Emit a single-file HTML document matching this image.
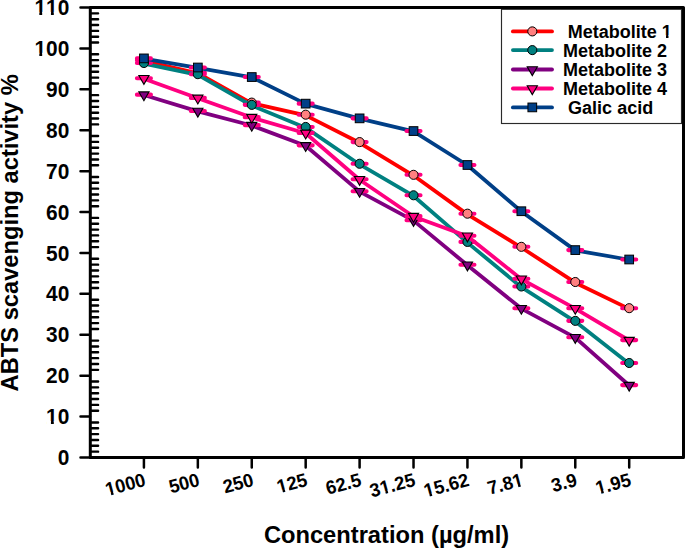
<!DOCTYPE html><html><head><meta charset="utf-8"><style>html,body{margin:0;padding:0;background:#fff;}svg{display:block;}text{font-family:"Liberation Sans",sans-serif;font-weight:bold;fill:#000;font-kerning:none;}</style></head><body>
<svg width="685" height="548" viewBox="0 0 685 548">
<rect width="685" height="548" fill="#fff"/>
<path d="M91.6 451.66H98.1M91.6 445.81H98.1M91.6 439.97H98.1M91.6 434.12H98.1M91.6 428.28H98.1M91.6 422.44H98.1M91.6 410.75H98.1M91.6 404.90H98.1M91.6 399.06H98.1M91.6 393.21H98.1M91.6 387.37H98.1M91.6 381.53H98.1M91.6 369.84H98.1M91.6 363.99H98.1M91.6 358.15H98.1M91.6 352.31H98.1M91.6 346.46H98.1M91.6 340.62H98.1M91.6 328.93H98.1M91.6 323.08H98.1M91.6 317.24H98.1M91.6 311.40H98.1M91.6 305.55H98.1M91.6 299.71H98.1M91.6 288.02H98.1M91.6 282.18H98.1M91.6 276.33H98.1M91.6 270.49H98.1M91.6 264.64H98.1M91.6 258.80H98.1M91.6 247.11H98.1M91.6 241.27H98.1M91.6 235.42H98.1M91.6 229.58H98.1M91.6 223.73H98.1M91.6 217.89H98.1M91.6 206.20H98.1M91.6 200.36H98.1M91.6 194.51H98.1M91.6 188.67H98.1M91.6 182.82H98.1M91.6 176.98H98.1M91.6 165.29H98.1M91.6 159.45H98.1M91.6 153.60H98.1M91.6 147.76H98.1M91.6 141.92H98.1M91.6 136.07H98.1M91.6 124.38H98.1M91.6 118.54H98.1M91.6 112.69H98.1M91.6 106.85H98.1M91.6 101.01H98.1M91.6 95.16H98.1M91.6 83.47H98.1M91.6 77.63H98.1M91.6 71.79H98.1M91.6 65.94H98.1M91.6 60.10H98.1M91.6 54.25H98.1M91.6 42.56H98.1M91.6 36.72H98.1M91.6 30.88H98.1M91.6 25.03H98.1M91.6 19.19H98.1M91.6 13.34H98.1" stroke="#000" stroke-width="2.4" stroke-linecap="round" fill="none"/>
<path d="M80.5 457.50H90M80.5 416.59H90M80.5 375.68H90M80.5 334.77H90M80.5 293.86H90M80.5 252.95H90M80.5 212.05H90M80.5 171.14H90M80.5 130.23H90M80.5 89.32H90M80.5 48.41H90M80.5 7.50H90" stroke="#000" stroke-width="2.5" stroke-linecap="round" fill="none"/>
<path d="M143.92 457.5V467.6M197.84 457.5V467.6M251.76 457.5V467.6M305.68 457.5V467.6M359.60 457.5V467.6M413.52 457.5V467.6M467.44 457.5V467.6M521.36 457.5V467.6M575.28 457.5V467.6M629.20 457.5V467.6" stroke="#000" stroke-width="2.5" stroke-linecap="round" fill="none"/>
<rect x="501.5" y="9.3" width="180" height="114.2" fill="#fff" stroke="#2a2a2a" stroke-width="1.15"/>
<path d="M90.3 457.5V7.5H683.5V457.5Z" stroke="#000" stroke-width="3" fill="none" stroke-linejoin="round"/>
<g transform="translate(69.3 465.10) scale(0.95 1)"><text x="0" y="0" font-size="22" text-anchor="end">0</text></g>
<g transform="translate(69.3 424.19) scale(0.95 1)"><text x="0" y="0" font-size="22" text-anchor="end">10</text><rect x="-24.08" y="-3.22" width="4.75" height="4.22" fill="#fff"/><rect x="-16.32" y="-3.22" width="4.47" height="4.22" fill="#fff"/></g>
<g transform="translate(69.3 383.28) scale(0.95 1)"><text x="0" y="0" font-size="22" text-anchor="end">20</text></g>
<g transform="translate(69.3 342.37) scale(0.95 1)"><text x="0" y="0" font-size="22" text-anchor="end">30</text></g>
<g transform="translate(69.3 301.46) scale(0.95 1)"><text x="0" y="0" font-size="22" text-anchor="end">40</text></g>
<g transform="translate(69.3 260.55) scale(0.95 1)"><text x="0" y="0" font-size="22" text-anchor="end">50</text></g>
<g transform="translate(69.3 219.65) scale(0.95 1)"><text x="0" y="0" font-size="22" text-anchor="end">60</text></g>
<g transform="translate(69.3 178.74) scale(0.95 1)"><text x="0" y="0" font-size="22" text-anchor="end">70</text></g>
<g transform="translate(69.3 137.83) scale(0.95 1)"><text x="0" y="0" font-size="22" text-anchor="end">80</text></g>
<g transform="translate(69.3 96.92) scale(0.95 1)"><text x="0" y="0" font-size="22" text-anchor="end">90</text></g>
<g transform="translate(69.3 56.01) scale(0.95 1)"><text x="0" y="0" font-size="22" text-anchor="end">100</text><rect x="-36.32" y="-3.22" width="4.75" height="4.22" fill="#fff"/><rect x="-28.55" y="-3.22" width="4.47" height="4.22" fill="#fff"/></g>
<g transform="translate(69.3 15.10) scale(0.95 1)"><text x="0" y="0" font-size="22" text-anchor="end">110</text><rect x="-36.32" y="-3.22" width="4.75" height="4.22" fill="#fff"/><rect x="-28.55" y="-3.22" width="4.47" height="4.22" fill="#fff"/><rect x="-24.08" y="-3.22" width="4.75" height="4.22" fill="#fff"/><rect x="-16.32" y="-3.22" width="4.47" height="4.22" fill="#fff"/></g>
<g transform="translate(143.12 472) rotate(-15) translate(0 14) scale(0.97 1)"><text x="0" y="0" font-size="19" text-anchor="end">1000</text><rect x="-42.07" y="-2.78" width="4.24" height="3.78" fill="#fff"/><rect x="-35.23" y="-2.78" width="4.00" height="3.78" fill="#fff"/></g>
<g transform="translate(197.04 472) rotate(-15) translate(0 14) scale(0.97 1)"><text x="0" y="0" font-size="19" text-anchor="end">500</text></g>
<g transform="translate(250.96 472) rotate(-15) translate(0 14) scale(0.97 1)"><text x="0" y="0" font-size="19" text-anchor="end">250</text></g>
<g transform="translate(304.88 472) rotate(-15) translate(0 14) scale(0.97 1)"><text x="0" y="0" font-size="19" text-anchor="end">125</text><rect x="-31.50" y="-2.78" width="4.24" height="3.78" fill="#fff"/><rect x="-24.66" y="-2.78" width="4.00" height="3.78" fill="#fff"/></g>
<g transform="translate(358.80 472) rotate(-15) translate(0 14) scale(0.97 1)"><text x="0" y="0" font-size="19" text-anchor="end">62.5</text></g>
<g transform="translate(412.72 472) rotate(-15) translate(0 14) scale(0.97 1)"><text x="0" y="0" font-size="19" text-anchor="end">31.25</text><rect x="-36.78" y="-2.78" width="4.24" height="3.78" fill="#fff"/><rect x="-29.94" y="-2.78" width="4.00" height="3.78" fill="#fff"/></g>
<g transform="translate(466.64 472) rotate(-15) translate(0 14) scale(0.97 1)"><text x="0" y="0" font-size="19" text-anchor="end">15.62</text><rect x="-47.35" y="-2.78" width="4.24" height="3.78" fill="#fff"/><rect x="-40.50" y="-2.78" width="4.00" height="3.78" fill="#fff"/></g>
<g transform="translate(520.56 472) rotate(-15) translate(0 14) scale(0.97 1)"><text x="0" y="0" font-size="19" text-anchor="end">7.81</text><rect x="-10.37" y="-2.78" width="4.24" height="3.78" fill="#fff"/><rect x="-3.53" y="-2.78" width="4.00" height="3.78" fill="#fff"/></g>
<g transform="translate(574.48 472) rotate(-15) translate(0 14) scale(0.97 1)"><text x="0" y="0" font-size="19" text-anchor="end">3.9</text></g>
<g transform="translate(628.40 472) rotate(-15) translate(0 14) scale(0.97 1)"><text x="0" y="0" font-size="19" text-anchor="end">1.95</text><rect x="-36.78" y="-2.78" width="4.24" height="3.78" fill="#fff"/><rect x="-29.94" y="-2.78" width="4.00" height="3.78" fill="#fff"/></g>
<text x="386.5" y="543" font-size="23.7" text-anchor="middle">Concentration (µg/ml)</text>
<text transform="translate(18 232.8) rotate(-90)" x="0" y="0" font-size="23.7" text-anchor="middle">ABTS scavenging activity %</text>
<path d="M143.92 60.97L197.84 73.25L251.76 103.31L305.68 115.38L359.60 142.79L413.52 175.52L467.44 214.38L521.36 247.52L575.28 282.70L629.20 308.88" stroke="#ff0000" stroke-width="3.8" fill="none" stroke-linejoin="round" stroke-linecap="round"/>
<path d="M136.92 60.27H150.92M190.84 72.55H204.84M244.76 102.61H258.76M298.68 114.68H312.68M352.60 142.09H366.60M406.52 174.82H420.52M460.44 213.68H474.44M514.36 246.82H528.36M568.28 282.00H582.28M622.20 308.18H636.20" stroke="#ff0080" stroke-width="4.1" stroke-linecap="round" fill="none"/>
<circle cx="143.92" cy="60.27" r="4.55" fill="#ff8080" stroke="#000" stroke-width="1.0"/>
<circle cx="197.84" cy="72.55" r="4.55" fill="#ff8080" stroke="#000" stroke-width="1.0"/>
<circle cx="251.76" cy="102.61" r="4.55" fill="#ff8080" stroke="#000" stroke-width="1.0"/>
<circle cx="305.68" cy="114.68" r="4.55" fill="#ff8080" stroke="#000" stroke-width="1.0"/>
<circle cx="359.60" cy="142.09" r="4.55" fill="#ff8080" stroke="#000" stroke-width="1.0"/>
<circle cx="413.52" cy="174.82" r="4.55" fill="#ff8080" stroke="#000" stroke-width="1.0"/>
<circle cx="467.44" cy="213.68" r="4.55" fill="#ff8080" stroke="#000" stroke-width="1.0"/>
<circle cx="521.36" cy="246.82" r="4.55" fill="#ff8080" stroke="#000" stroke-width="1.0"/>
<circle cx="575.28" cy="282.00" r="4.55" fill="#ff8080" stroke="#000" stroke-width="1.0"/>
<circle cx="629.20" cy="308.18" r="4.55" fill="#ff8080" stroke="#000" stroke-width="1.0"/>
<path d="M143.92 63.71L197.84 74.88L251.76 105.56L305.68 127.65L359.60 164.47L413.52 195.97L467.44 242.61L521.36 287.20L575.28 321.56L629.20 363.70" stroke="#008080" stroke-width="3.8" fill="none" stroke-linejoin="round" stroke-linecap="round"/>
<path d="M136.92 63.01H150.92M190.84 74.18H204.84M244.76 104.86H258.76M298.68 126.95H312.68M352.60 163.77H366.60M406.52 195.27H420.52M460.44 241.91H474.44M514.36 286.50H528.36M568.28 320.86H582.28M622.20 363.00H636.20" stroke="#ff0080" stroke-width="4.1" stroke-linecap="round" fill="none"/>
<circle cx="143.92" cy="63.01" r="4.55" fill="#008080" stroke="#000" stroke-width="1.0"/>
<circle cx="197.84" cy="74.18" r="4.55" fill="#008080" stroke="#000" stroke-width="1.0"/>
<circle cx="251.76" cy="104.86" r="4.55" fill="#008080" stroke="#000" stroke-width="1.0"/>
<circle cx="305.68" cy="126.95" r="4.55" fill="#008080" stroke="#000" stroke-width="1.0"/>
<circle cx="359.60" cy="163.77" r="4.55" fill="#008080" stroke="#000" stroke-width="1.0"/>
<circle cx="413.52" cy="195.27" r="4.55" fill="#008080" stroke="#000" stroke-width="1.0"/>
<circle cx="467.44" cy="241.91" r="4.55" fill="#008080" stroke="#000" stroke-width="1.0"/>
<circle cx="521.36" cy="286.50" r="4.55" fill="#008080" stroke="#000" stroke-width="1.0"/>
<circle cx="575.28" cy="320.86" r="4.55" fill="#008080" stroke="#000" stroke-width="1.0"/>
<circle cx="629.20" cy="363.00" r="4.55" fill="#008080" stroke="#000" stroke-width="1.0"/>
<path d="M143.92 95.04L197.84 111.40L251.76 125.51L305.68 145.76L359.60 191.58L413.52 220.63L467.44 265.22L521.36 308.58L575.28 337.63L629.20 385.49" stroke="#800080" stroke-width="3.8" fill="none" stroke-linejoin="round" stroke-linecap="round"/>
<path d="M136.92 94.64H150.92M190.84 111.00H204.84M244.76 125.11H258.76M298.68 145.36H312.68M352.60 191.18H366.60M406.52 220.23H420.52M460.44 264.82H474.44M514.36 308.18H528.36M568.28 337.23H582.28M622.20 385.09H636.20" stroke="#ff0080" stroke-width="4.1" stroke-linecap="round" fill="none"/>
<path d="M138.82 91.89H149.02L143.92 100.69Z" fill="#800080" stroke="#000" stroke-width="1.1" stroke-linejoin="miter"/>
<path d="M192.74 108.25H202.94L197.84 117.05Z" fill="#800080" stroke="#000" stroke-width="1.1" stroke-linejoin="miter"/>
<path d="M246.66 122.36H256.86L251.76 131.16Z" fill="#800080" stroke="#000" stroke-width="1.1" stroke-linejoin="miter"/>
<path d="M300.58 142.61H310.78L305.68 151.41Z" fill="#800080" stroke="#000" stroke-width="1.1" stroke-linejoin="miter"/>
<path d="M354.50 188.43H364.70L359.60 197.23Z" fill="#800080" stroke="#000" stroke-width="1.1" stroke-linejoin="miter"/>
<path d="M408.42 217.48H418.62L413.52 226.28Z" fill="#800080" stroke="#000" stroke-width="1.1" stroke-linejoin="miter"/>
<path d="M462.34 262.07H472.54L467.44 270.87Z" fill="#800080" stroke="#000" stroke-width="1.1" stroke-linejoin="miter"/>
<path d="M516.26 305.43H526.46L521.36 314.23Z" fill="#800080" stroke="#000" stroke-width="1.1" stroke-linejoin="miter"/>
<path d="M570.18 334.48H580.38L575.28 343.28Z" fill="#800080" stroke="#000" stroke-width="1.1" stroke-linejoin="miter"/>
<path d="M624.10 382.34H634.30L629.20 391.14Z" fill="#800080" stroke="#000" stroke-width="1.1" stroke-linejoin="miter"/>
<path d="M143.92 78.67L197.84 98.31L251.76 117.54L305.68 133.29L359.60 179.72L413.52 216.54L467.44 236.17L521.36 279.13L575.28 308.58L629.20 340.49" stroke="#ff0080" stroke-width="3.8" fill="none" stroke-linejoin="round" stroke-linecap="round"/>
<path d="M136.92 78.27H150.92M190.84 97.91H204.84M244.76 117.14H258.76M298.68 132.89H312.68M352.60 179.32H366.60M406.52 216.14H420.52M460.44 235.77H474.44M514.36 278.73H528.36M568.28 308.18H582.28M622.20 340.09H636.20" stroke="#ff0080" stroke-width="4.1" stroke-linecap="round" fill="none"/>
<path d="M138.82 75.52H149.02L143.92 84.32Z" fill="#ff0080" stroke="#000" stroke-width="1.1" stroke-linejoin="miter"/>
<path d="M192.74 95.16H202.94L197.84 103.96Z" fill="#ff0080" stroke="#000" stroke-width="1.1" stroke-linejoin="miter"/>
<path d="M246.66 114.39H256.86L251.76 123.19Z" fill="#ff0080" stroke="#000" stroke-width="1.1" stroke-linejoin="miter"/>
<path d="M300.58 130.14H310.78L305.68 138.94Z" fill="#ff0080" stroke="#000" stroke-width="1.1" stroke-linejoin="miter"/>
<path d="M354.50 176.57H364.70L359.60 185.37Z" fill="#ff0080" stroke="#000" stroke-width="1.1" stroke-linejoin="miter"/>
<path d="M408.42 213.39H418.62L413.52 222.19Z" fill="#ff0080" stroke="#000" stroke-width="1.1" stroke-linejoin="miter"/>
<path d="M462.34 233.02H472.54L467.44 241.82Z" fill="#ff0080" stroke="#000" stroke-width="1.1" stroke-linejoin="miter"/>
<path d="M516.26 275.98H526.46L521.36 284.78Z" fill="#ff0080" stroke="#000" stroke-width="1.1" stroke-linejoin="miter"/>
<path d="M570.18 305.43H580.38L575.28 314.23Z" fill="#ff0080" stroke="#000" stroke-width="1.1" stroke-linejoin="miter"/>
<path d="M624.10 337.34H634.30L629.20 346.14Z" fill="#ff0080" stroke="#000" stroke-width="1.1" stroke-linejoin="miter"/>
<path d="M143.92 58.64L197.84 67.76L251.76 77.30L305.68 103.89L359.60 118.61L413.52 131.30L467.44 165.25L521.36 211.48L575.28 250.34L629.20 259.75" stroke="#003f87" stroke-width="3.8" fill="none" stroke-linejoin="round" stroke-linecap="round"/>
<path d="M136.92 58.39H150.92M190.84 67.51H204.84M244.76 77.05H258.76M298.68 103.64H312.68M352.60 118.36H366.60M406.52 131.05H420.52M460.44 165.00H474.44M514.36 211.23H528.36M568.28 250.09H582.28M622.20 259.50H636.20" stroke="#ff0080" stroke-width="4.1" stroke-linecap="round" fill="none"/>
<rect x="139.57" y="54.04" width="8.7" height="8.7" fill="#003f87" stroke="#000" stroke-width="1.0"/>
<rect x="193.49" y="63.16" width="8.7" height="8.7" fill="#003f87" stroke="#000" stroke-width="1.0"/>
<rect x="247.41" y="72.70" width="8.7" height="8.7" fill="#003f87" stroke="#000" stroke-width="1.0"/>
<rect x="301.33" y="99.29" width="8.7" height="8.7" fill="#003f87" stroke="#000" stroke-width="1.0"/>
<rect x="355.25" y="114.01" width="8.7" height="8.7" fill="#003f87" stroke="#000" stroke-width="1.0"/>
<rect x="409.17" y="126.70" width="8.7" height="8.7" fill="#003f87" stroke="#000" stroke-width="1.0"/>
<rect x="463.09" y="160.65" width="8.7" height="8.7" fill="#003f87" stroke="#000" stroke-width="1.0"/>
<rect x="517.01" y="206.88" width="8.7" height="8.7" fill="#003f87" stroke="#000" stroke-width="1.0"/>
<rect x="570.93" y="245.74" width="8.7" height="8.7" fill="#003f87" stroke="#000" stroke-width="1.0"/>
<rect x="624.85" y="255.15" width="8.7" height="8.7" fill="#003f87" stroke="#000" stroke-width="1.0"/>
<path d="M512.9 31.4H552" stroke="#ff0000" stroke-width="3.8" stroke-linecap="round"/>
<circle cx="532.30" cy="31.40" r="4.55" fill="#ff8080" stroke="#000" stroke-width="1.0"/>
<g transform="translate(567.8 37.90)"><text x="0" y="0" font-size="18">Metabolite 1</text><rect x="94.14" y="-2.64" width="4.07" height="3.64" fill="#fff"/><rect x="100.68" y="-2.64" width="3.84" height="3.64" fill="#fff"/></g>
<path d="M512.9 50.1H552" stroke="#008080" stroke-width="3.8" stroke-linecap="round"/>
<circle cx="532.30" cy="50.10" r="4.55" fill="#008080" stroke="#000" stroke-width="1.0"/>
<g transform="translate(563.1 56.60)"><text x="0" y="0" font-size="18">Metabolite 2</text></g>
<path d="M512.9 69.5H552" stroke="#800080" stroke-width="3.8" stroke-linecap="round"/>
<path d="M527.20 66.75H537.40L532.30 75.55Z" fill="#800080" stroke="#000" stroke-width="1.1" stroke-linejoin="miter"/>
<g transform="translate(563.1 76.00)"><text x="0" y="0" font-size="18">Metabolite 3</text></g>
<path d="M512.9 88.5H552" stroke="#ff0080" stroke-width="3.8" stroke-linecap="round"/>
<path d="M527.20 85.75H537.40L532.30 94.55Z" fill="#ff0080" stroke="#000" stroke-width="1.1" stroke-linejoin="miter"/>
<g transform="translate(563.1 95.00)"><text x="0" y="0" font-size="18">Metabolite 4</text></g>
<path d="M512.9 107.4H552" stroke="#003f87" stroke-width="3.8" stroke-linecap="round"/>
<rect x="527.95" y="103.05" width="8.7" height="8.7" fill="#003f87" stroke="#000" stroke-width="1.0"/>
<g transform="translate(568.1 113.90)"><text x="0" y="0" font-size="18">Galic acid</text></g>
</svg></body></html>
